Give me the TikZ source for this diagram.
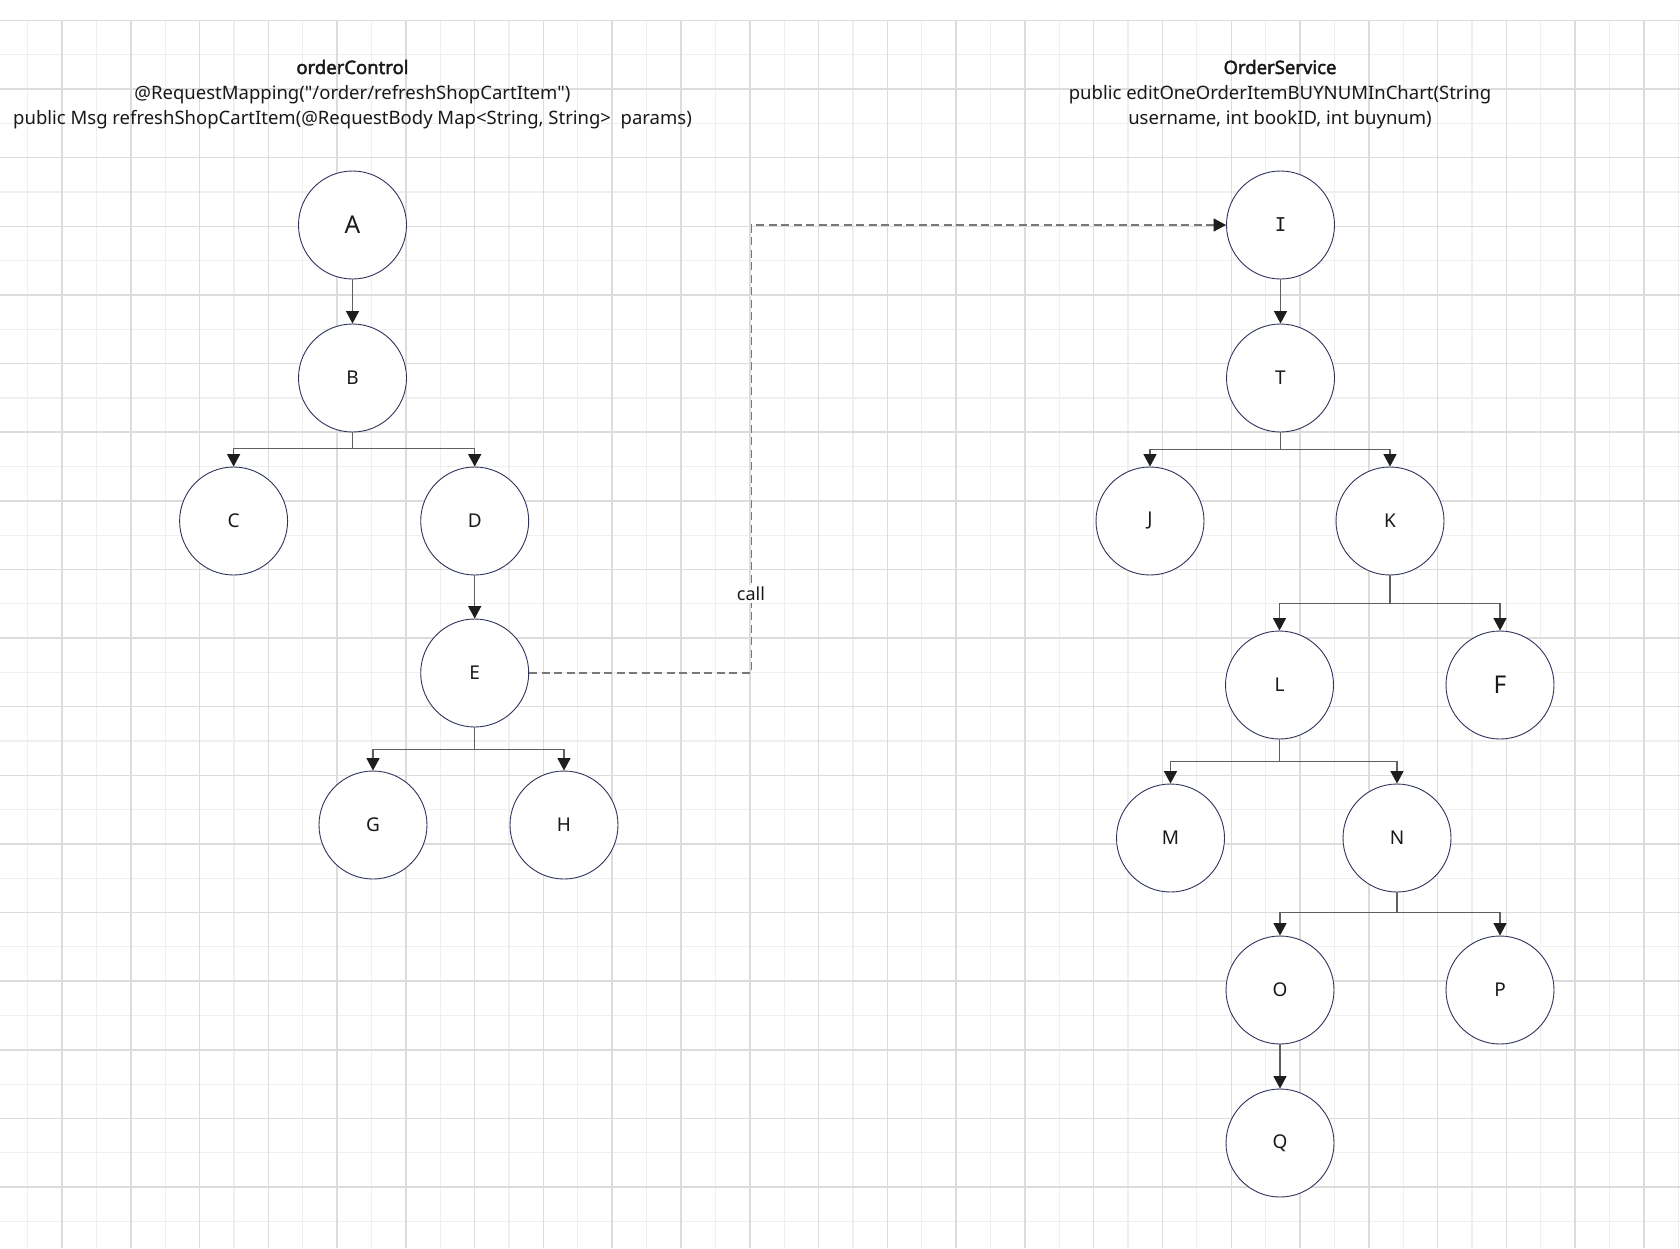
\documentclass[tikz,border=0pt]{standalone}
\usepackage{fontspec}
\setmainfont{Noto Sans}[AutoFakeBold=2.2]
\newfontfamily\serifI{DejaVu Sans Mono}
\usetikzlibrary{arrows.meta}
\definecolor{griddark}{HTML}{DCDCDC}
\definecolor{gridlight}{HTML}{EFEFEF}
\definecolor{nodeborder}{HTML}{2E345A}
\definecolor{edgegray}{HTML}{606060}
\definecolor{tipblack}{HTML}{1E1E1E}
\definecolor{dashgray}{HTML}{787878}
\tikzset{
  treenode/.style={circle, draw=nodeborder, line width=0.9pt, fill=white, minimum size=108pt, inner sep=0pt, font=\fontsize{19}{19}\selectfont, text=black!90},
  bignode/.style={treenode, font=\fontsize{24.5}{24.5}\selectfont},
  edge/.style={draw=edgegray, line width=1.5pt, -{Triangle[length=12.5pt,width=13pt,color=tipblack]}},
  calledge/.style={draw=dashgray, line width=1.5pt, dash pattern=on 8pt off 4.5pt, -{Triangle[length=12.5pt,width=13pt,color=tipblack]}},
  calllabel/.style={fill=white, inner sep=2pt, font=\fontsize{18}{18}\selectfont, text=black!90},
  titletext/.style={anchor=base, inner sep=0pt, text=black!90},
}
\begin{document}
\begin{tikzpicture}[x=1pt,y=-1pt]
% canvas
\fill[white] (0,0) rectangle (1680,1248);
\useasboundingbox (0,0) rectangle (1680,1248);
% grid
\foreach \k in {0,2,...,48} {
  \pgfmathsetmacro{\gx}{27.6+34.39*\k}
  \draw[gridlight, line width=1.2pt] (\gx,20.5) -- (\gx,1248);
}
\foreach \k in {1,3,...,35} {
  \pgfmathsetmacro{\gy}{20.5+34.31*\k}
  \draw[gridlight, line width=1.2pt] (0,\gy) -- (1680,\gy);
}
\foreach \k in {1,3,...,47} {
  \pgfmathsetmacro{\gx}{27.6+34.39*\k}
  \draw[griddark, line width=1.5pt] (\gx,20.5) -- (\gx,1248);
}
\foreach \k in {0,2,...,34} {
  \pgfmathsetmacro{\gy}{20.5+34.31*\k}
  \draw[griddark, line width=1.5pt] (0,\gy) -- (1680,\gy);
}
% titles
\node[titletext] (lefttitle) at (352.5,74) {\fontsize{18.5}{25.3}\selectfont\begin{tabular}[t]{@{}c@{}}\textbf{orderControl}\\@RequestMapping(\textquotedbl/order/refreshShopCartItem\textquotedbl)\\public Msg refreshShopCartItem(@RequestBody Map<String, String>\ \ params)\end{tabular}};
\node[titletext] (righttitle) at (1280,74) {\fontsize{18.5}{25.3}\selectfont\begin{tabular}[t]{@{}c@{}}\textbf{OrderService}\\public editOneOrderItemBUYNUMInChart(String\\username, int bookID, int buynum)\end{tabular}};
% left tree
\node[bignode] (A) at (352.5,225) {A};
\node[treenode] (B) at (352.5,378) {B};
\node[treenode] (C) at (233.6,521) {C};
\node[treenode] (D) at (474.7,521) {D};
\node[treenode] (E) at (474.7,673) {E};
\node[treenode] (G) at (373,825) {G};
\node[treenode] (H) at (564,825) {H};
% right tree
\node[treenode] (I) at (1280.5,225) {\serifI I};
\node[treenode] (T) at (1280.5,378) {T};
\node[treenode] (J) at (1150,521) {J};
\node[treenode] (K) at (1390,521) {K};
\node[treenode] (L) at (1279.5,685) {L};
\node[bignode] (F) at (1500,685) {F};
\node[treenode] (M) at (1170.5,838) {M};
\node[treenode] (N) at (1397,838) {N};
\node[treenode] (O) at (1280,990) {O};
\node[treenode] (P) at (1500,990) {P};
\node[treenode] (Q) at (1280,1143) {Q};
% left edges
\draw[edge] (A) -- (B);
\draw[edge] (B.south) -- ++(0,16) -| (C.north);
\draw[edge] (B.south) -- ++(0,16) -| (D.north);
\draw[edge] (D) -- (E);
\draw[edge] (E.south) -- ++(0,22) -| (G.north);
\draw[edge] (E.south) -- ++(0,22) -| (H.north);
% right edges
\draw[edge] (I) -- (T);
\draw[edge] (T.south) -- ++(0,17) -| (J.north);
\draw[edge] (T.south) -- ++(0,17) -| (K.north);
\draw[edge] (K.south) -- ++(0,28) -| (L.north);
\draw[edge] (K.south) -- ++(0,28) -| (F.north);
\draw[edge] (L.south) -- ++(0,22) -| (M.north);
\draw[edge] (L.south) -- ++(0,22) -| (N.north);
\draw[edge] (N.south) -- ++(0,20) -| (O.north);
\draw[edge] (N.south) -- ++(0,20) -| (P.north);
\draw[edge] (O) -- (Q);
% call connector
\draw[calledge] (E.east) -- ++(222.3,0) |- (I.west);
\node[calllabel] (calltxt) at (751,594) {call};
\end{tikzpicture}
\end{document}
